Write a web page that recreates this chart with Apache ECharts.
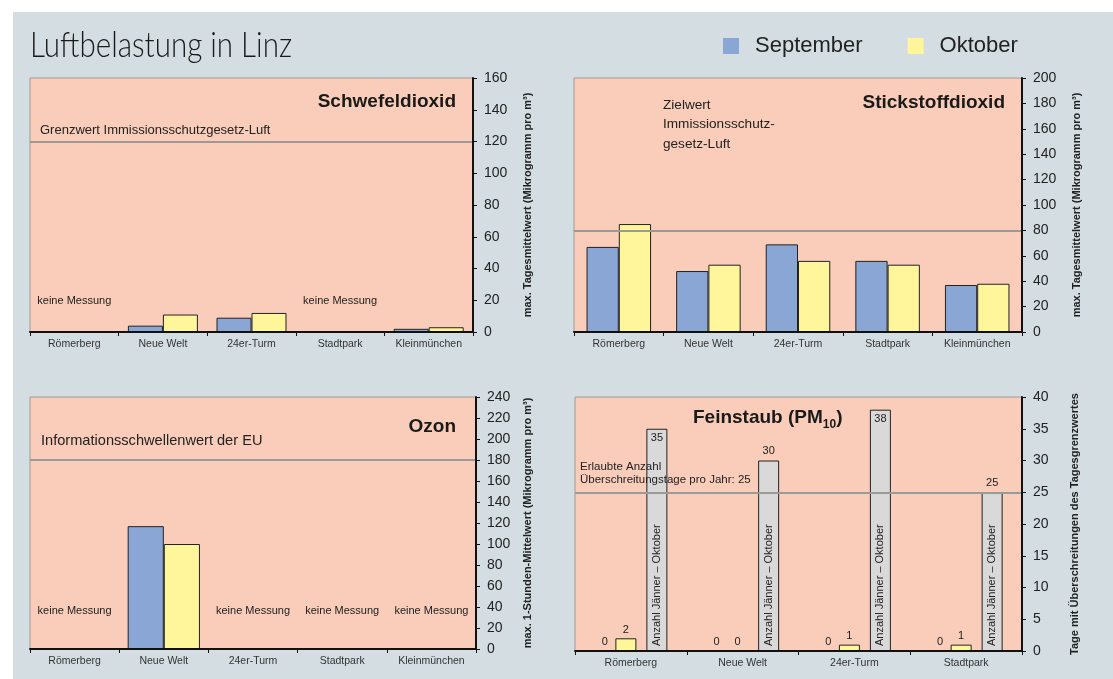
<!DOCTYPE html>
<html><head><meta charset="utf-8">
<script src="https://cdn.jsdelivr.net/npm/echarts@6/dist/echarts.min.js"></script>
<style>
html,body{margin:0;padding:0;background:#fff;}
#bg{position:absolute;left:13px;top:12px;width:1100px;height:667px;background:#d4dde2;}
#chart{position:absolute;left:0;top:0;width:1113px;height:679px;}
</style></head><body><div id="bg"></div><div id="chart"></div>
<script>
// ---------- data ----------
const stations = ['Römerberg', 'Neue Welt', '24er-Turm', 'Stadtpark', 'Kleinmünchen'];
const so2Sep = [null, 4, 9, null, 2];
const so2Oct = [null, 11, 12, null, 3];
const no2Sep = [67, 48, 69, 56, 37];
const no2Oct = [85, 53, 56, 53, 38];
const o3Sep = [null, 117, null, null, null];
const o3Oct = [null, 100, null, null, null];
const pmStations = ['Römerberg', 'Neue Welt', '24er-Turm', 'Stadtpark'];
const pmSep = [0, 0, 0, 0];
const pmOct = [2, 0, 1, 1];
const pmJanOct = [35, 30, 38, 25];
const so2Limit = 120;
const no2Limit = 80;
const o3Limit = 180;
const pmLimit = 25;
const so2Axis = { max: 160, interval: 20 };
const no2Axis = { max: 200, interval: 20 };
const o3Axis = { max: 240, interval: 20 };
const pmAxis = { max: 40, interval: 5 };

// ---------- styling ----------
const FONT = '"Liberation Sans", Arial, sans-serif';
const TITLE_FONT = 'Lato, "Liberation Sans", sans-serif';
const BLUE = '#8aa6d5';
const YELLOW = '#fff59b';
const PINK = '#f9cdb9';

// squeeze the main title to the condensed width of the original
const titleText = 'Luftbelastung in Linz';
const mctx = document.createElement('canvas').getContext('2d');
mctx.font = '300 35px ' + TITLE_FONT;
const titleScale = 262 / mctx.measureText(titleText).width;

const chart = echarts.init(document.getElementById('chart'), null, { renderer: 'canvas' });

function grid(left, top, width, height) {
  return { left, top, width, height, show: true, backgroundColor: PINK, borderColor: '#9c9c9c', borderWidth: 1, containLabel: false };
}
function xAx(gi, cats) {
  return {
    type: 'category', gridIndex: gi, data: cats,
    axisLine: { lineStyle: { color: '#111', width: 2 } },
    axisTick: { show: true, length: 4, lineStyle: { color: '#111', width: 1 } },
    axisLabel: { fontSize: 10.5, color: '#333', margin: 7, fontFamily: FONT, interval: 0 },
    z: 5
  };
}
function yAx(gi, ax, name, gap) {
  return {
    type: 'value', gridIndex: gi, position: 'right', min: 0, max: ax.max, interval: ax.interval,
    name, nameLocation: 'middle', nameRotate: 90, nameGap: gap,
    nameTextStyle: { fontSize: 11, fontWeight: 'bold', color: '#222', fontFamily: FONT },
    axisLine: { show: true, lineStyle: { color: '#111', width: 2 } },
    axisTick: { show: true, length: 4, lineStyle: { color: '#111', width: 1 } },
    axisLabel: { fontSize: 14, color: '#222', margin: 11, fontFamily: FONT },
    splitLine: { show: false }, z: 5
  };
}
function limitLine(v) {
  return { silent: true, symbol: 'none', label: { show: false },
    lineStyle: { color: '#9a9a9a', width: 2, type: 'solid' }, data: [{ yAxis: v }] };
}
// a data-less helper series that carries the "keine Messung" notes at the category centres
function noMeasure(gi, cats, vals, yPos) {
  return {
    type: 'line', name: 'keine Messung', xAxisIndex: gi, yAxisIndex: gi, data: [], silent: true,
    markPoint: {
      symbol: 'rect', symbolSize: 1, itemStyle: { color: 'transparent' }, silent: true,
      label: { show: true, position: 'inside', formatter: 'keine Messung', fontSize: 11, color: '#222', fontFamily: FONT },
      data: cats.filter((c, i) => vals[i] == null).map(c => ({ coord: [c, yPos] }))
    }
  };
}
function bar(name, gi, data, color, gap, extra) {
  return Object.assign({
    type: 'bar', name, xAxisIndex: gi, yAxisIndex: gi, data, barGap: '0%', barCategoryGap: gap,
    itemStyle: { color, borderColor: '#222', borderWidth: 1 }, silent: true
  }, extra || {});
}
const pmLabel = { show: true, position: 'top', distance: 3, fontSize: 11, color: '#222', fontFamily: FONT };

const option = {
  animation: false,
  textStyle: { fontFamily: FONT },
  legend: {
    data: ['September', 'Oktober'], left: 723, top: 35, padding: 0,
    icon: 'rect', itemWidth: 16, itemHeight: 16, itemGap: 45,
    itemStyle: { borderWidth: 0 },
    textStyle: { fontSize: 22, color: '#222', fontFamily: FONT, padding: [0, 0, 0, 11] },
    selectedMode: false
  },
  grid: [
    grid(30, 78, 443, 254),
    grid(574, 78, 448, 254),
    grid(30, 397, 446, 252),
    grid(575, 397, 447, 254)
  ],
  xAxis: [xAx(0, stations), xAx(1, stations), xAx(2, stations), xAx(3, pmStations)],
  yAxis: [
    yAx(0, so2Axis, 'max. Tagesmittelwert (Mikrogramm pro m³)', 49),
    yAx(1, no2Axis, 'max. Tagesmittelwert (Mikrogramm pro m³)', 49),
    yAx(2, o3Axis, 'max. 1-Stunden-Mittelwert (Mikrogramm pro m³)', 46),
    yAx(3, pmAxis, 'Tage mit Überschreitungen des Tagesgrenzwertes', 47)
  ],
  series: [
    bar('September', 0, so2Sep, BLUE, '21%', { markLine: limitLine(so2Limit) }),
    bar('Oktober', 0, so2Oct, YELLOW, '21%'),
    noMeasure(0, stations, so2Sep, 19.5),
    bar('September', 1, no2Sep, BLUE, '28%', { markLine: limitLine(no2Limit) }),
    bar('Oktober', 1, no2Oct, YELLOW, '28%'),
    bar('September', 2, o3Sep, BLUE, '19%', { markLine: limitLine(o3Limit) }),
    bar('Oktober', 2, o3Oct, YELLOW, '19%'),
    noMeasure(2, stations, o3Sep, 36),
    bar('September', 3, pmSep, BLUE, null, { barWidth: 21, label: pmLabel, markLine: limitLine(pmLimit) }),
    bar('Oktober', 3, pmOct, YELLOW, null, { barWidth: 21, label: pmLabel }),
    { type: 'bar', name: 'spacer', xAxisIndex: 3, yAxisIndex: 3, data: [], barWidth: 10, barGap: '0%', silent: true },
    {
      type: 'bar', name: 'Anzahl Jänner – Oktober', xAxisIndex: 3, yAxisIndex: 3, data: pmJanOct, stack: 'jo',
      barWidth: 21, barGap: '0%', silent: true,
      itemStyle: { color: '#d9d9d9', borderColor: '#222', borderWidth: 1 },
      label: { show: true, formatter: 'Anzahl Jänner – Oktober', position: 'insideBottom', rotate: 90,
        align: 'left', verticalAlign: 'middle', distance: 5, fontSize: 11, color: '#222', fontFamily: FONT }
    },
    {
      type: 'bar', name: 'janOctValue', xAxisIndex: 3, yAxisIndex: 3, stack: 'jo', barWidth: 21, barGap: '0%', silent: true,
      data: pmJanOct.map(v => ({ value: 0, label: { position: v > 32 ? 'bottom' : 'top' } })),
      itemStyle: { color: 'transparent', borderWidth: 0 },
      label: { show: true, formatter: p => String(pmJanOct[p.dataIndex]), distance: 4, fontSize: 11, color: '#222', fontFamily: FONT }
    }
  ],
  graphic: {
    elements: [
      { type: 'text', z: 100, x: 30, y: 46, scaleX: titleScale, style: { text: titleText, fontSize: 35, fontWeight: 300, fontFamily: TITLE_FONT, fill: '#1a1a1a', verticalAlign: 'middle' } },
      { type: 'text', z: 100, x: 456, y: 102, style: { text: 'Schwefeldioxid', fontSize: 19, fontWeight: 'bold', fontFamily: FONT, fill: '#1a1a1a', align: 'right', verticalAlign: 'middle' } },
      { type: 'text', z: 100, x: 1005, y: 103, style: { text: 'Stickstoffdioxid', fontSize: 19, fontWeight: 'bold', fontFamily: FONT, fill: '#1a1a1a', align: 'right', verticalAlign: 'middle' } },
      { type: 'text', z: 100, x: 456, y: 427, style: { text: 'Ozon', fontSize: 19, fontWeight: 'bold', fontFamily: FONT, fill: '#1a1a1a', align: 'right', verticalAlign: 'middle' } },
      { type: 'text', z: 100, x: 693, y: 405, style: {
        text: '{t|Feinstaub (PM}{s|10}{t|)}', fontFamily: FONT, fill: '#1a1a1a', align: 'left', verticalAlign: 'top',
        rich: { t: { fontSize: 19, fontWeight: 'bold', lineHeight: 26, verticalAlign: 'middle', fontFamily: FONT, fill: '#1a1a1a' },
                s: { fontSize: 12, fontWeight: 'bold', verticalAlign: 'bottom', fontFamily: FONT, fill: '#1a1a1a' } } } },
      { type: 'text', z: 100, x: 40, y: 130, style: { text: 'Grenzwert Immissionsschutzgesetz-Luft', fontSize: 13, fontFamily: FONT, fill: '#222', verticalAlign: 'middle' } },
      { type: 'text', z: 100, x: 663, y: 95, style: { text: 'Zielwert\nImmissionsschutz-\ngesetz-Luft', fontSize: 13.6, lineHeight: 19.5, fontFamily: FONT, fill: '#222', verticalAlign: 'top' } },
      { type: 'text', z: 100, x: 41, y: 441, style: { text: 'Informationsschwellenwert der EU', fontSize: 14.6, fontFamily: FONT, fill: '#222', verticalAlign: 'middle' } },
      { type: 'text', z: 100, x: 580, y: 460, style: { text: 'Erlaubte Anzahl\nÜberschreitungstage pro Jahr: 25', fontSize: 11.5, lineHeight: 13.5, fontFamily: FONT, fill: '#222', verticalAlign: 'top' } }
    ]
  }
};
chart.setOption(option);
</script>
</body></html>
